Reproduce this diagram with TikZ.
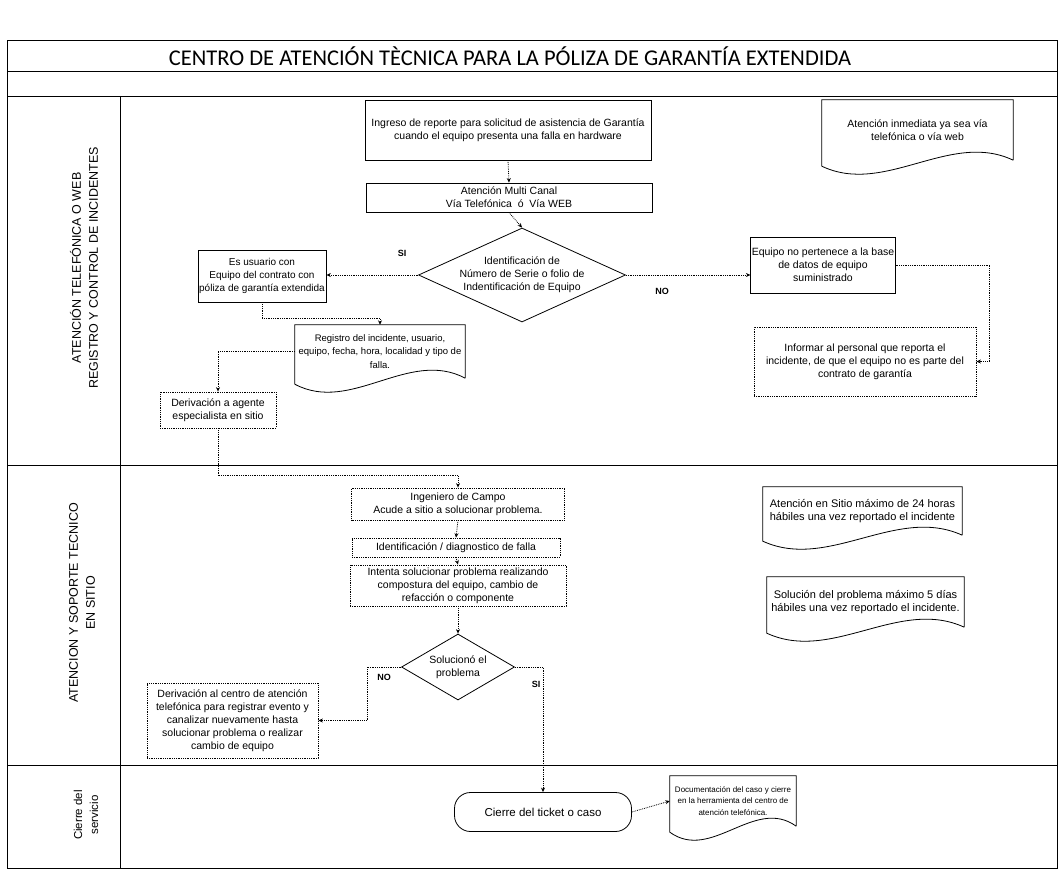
\documentclass[tikz,border=0pt]{standalone}
\usepackage{fontspec}
\setmainfont{Liberation Sans}
\newfontfamily\titlefont{Carlito}
\usetikzlibrary{shapes.geometric,arrows.meta,calc}
\newcommand{\docshape}[7][]{%
  \node[doctext,#1,minimum width={(#5)-(#3)},minimum height={(#6)-(#4)}] (#2) at ({((#3)+(#5))/2},{((#4)+(#6))/2}) {#7};
  \draw[docline] (#2.south east) -- (#2.north east) -- (#2.north west) -- ($(#2.south west)+(0,6)$) .. controls +({((#5)-(#3))*0.33},30) and +({-((#5)-(#3))*0.33},-30) .. (#2.south east);
}
\begin{document}
\begin{tikzpicture}[x=1pt,y=-1pt,
  txt/.style={font=\fontsize{10.5}{13}\selectfont, align=center, inner sep=1pt},
  sbox/.style={txt, draw, line width=0.8pt},
  dbox/.style={txt, draw, densely dotted, line width=0.8pt},
  doctext/.style={txt},
  docline/.style={line width=0.8pt},
  conn/.style={densely dotted, line width=0.8pt, -{Stealth[length=4.5pt,width=4pt]}},
  yn/.style={font=\fontsize{9}{10}\selectfont\bfseries, inner sep=0pt},
  lane/.style={rotate=90, align=center, font=\fontsize{12.5}{17}\selectfont},
  frame/.style={line width=0.9pt}]
\useasboundingbox (0,0) rectangle (1061,877);
\fill[white] (0,0) rectangle (1061,877);

% frame and lanes
\draw[frame] (7,40) rectangle (1057,868);
\draw[frame] (7,71) -- (1057,71);
\draw[frame] (7,96) -- (1057,96);
\draw[frame] (120,96) -- (120,868);
\draw[frame] (7,465) -- (1057,465);
\draw[frame] (7,765) -- (1057,765);

\node[font=\titlefont\fontsize{22.5}{26}\selectfont] (title) at (510,56) {CENTRO DE ATENCIÓN TÈCNICA PARA LA PÓLIZA DE GARANTÍA EXTENDIDA};

\node[lane] (lane1) at (84,268) {ATENCIÓN TELEFÓNICA O WEB\\REGISTRO Y CONTROL DE INCIDENTES};
\node[lane] (lane2) at (82,603) {ATENCION Y SOPORTE TECNICO\\EN SITIO};
\node[lane, font=\fontsize{11.5}{16}\selectfont] (lane3) at (86,815) {Cierre del\\servicio};

% lane 1
\node[sbox, minimum width=286, minimum height=60] (box1) at (508,130) {Ingreso de reporte para solicitud de asistencia de Garantía\\cuando el equipo presenta una falla en hardware};
\node[sbox, minimum width=286, minimum height=29] (box2) at (509,197.5) {Atención Multi Canal\\Vía Telefónica \ ó \ Vía WEB};
\node[diamond, draw, line width=0.8pt, minimum width=207, minimum height=94, inner sep=0pt] (d1) at (522,275) {};
\node[txt] (d1t) at (d1.center) {Identificación de\\Número de Serie o folio de\\Indentificación de Equipo};
\node[sbox, font=\fontsize{10}{13}\selectfont, minimum width=128, minimum height=52] (usuario) at (262,276) {Es usuario con\\Equipo del contrato con\\póliza de garantía extendida};
\docshape[font=\fontsize{9.5}{13.5}\selectfont]{registro}{295}{325}{465}{378}{Registro del incidente, usuario,\\equipo, fecha, hora, localidad y tipo de\\falla.}
\node[dbox, minimum width=116, minimum height=36] (derivA) at (218,410) {Derivación a agente\\especialista en sitio};
\docshape{atinm}{822}{100}{1013}{160}{Atención inmediata ya sea vía\\telefónica o vía web}
\node[sbox, minimum width=142, minimum height=56] (equipo) at (823,265) {Equipo no pertenece a la base\\de datos de equipo\\suministrado};
\node[dbox, minimum width=222, minimum height=69] (informar) at (865,361.5) {Informar al personal que reporta el\\incidente, de que el equipo no es parte del\\contrato de garantía};

\node[yn] (si1) at (402,253) {SI};
\node[yn] (no1) at (662,291) {NO};

\draw[conn] (box1.south) -- (box2.north);
\draw[conn] (box2.south) -- (d1.north);
\draw[conn] (d1.west) -- (d1.west -| usuario.east);
\draw[conn] (d1.east) -- (d1.east -| equipo.west);
\draw[conn] (usuario.south) -- ++(0,16) -| (registro.north);
\draw[conn] (registro.west) -| (derivA.north);
\draw[conn] (equipo.east) -- ++(94,0) |- (informar.east);

% lane 2
\node[dbox, minimum width=213, minimum height=32] (ing) at (458,504) {Ingeniero de Campo\\Acude a sitio a solucionar problema.};
\node[dbox, minimum width=208, minimum height=19] (ident) at (456,547.5) {Identificación / diagnostico de falla};
\node[dbox, minimum width=216, minimum height=41] (intenta) at (458,585.5) {Intenta solucionar problema realizando\\compostura del equipo, cambio de\\refacción o componente};
\node[diamond, draw, line width=0.8pt, minimum width=113, minimum height=66, inner sep=0pt] (d2) at (458,667) {};
\node[txt] (d2t) at (d2.center) {Solucionó el\\problema};
\node[dbox, minimum width=171, minimum height=75] (derivC) at (232.5,720.5) {Derivación al centro de atención\\telefónica para registrar evento y\\canalizar nuevamente hasta\\solucionar problema o realizar\\cambio de equipo};
\docshape[font=\fontsize{11}{13}\selectfont]{atsitio}{763}{487}{962}{535}{Atención en Sitio máximo de 24 horas\\hábiles una vez reportado el incidente}
\docshape[font=\fontsize{11}{13}\selectfont]{solucion}{767}{577}{964}{627}{Solución del problema máximo 5 días\\hábiles una vez reportado el incidente.}

\node[yn] (no2) at (384,677) {NO};
\node[yn] (si2) at (536,684) {SI};

\draw[conn] (derivA.south) |- ($(ing.north)+(0,-12)$) -- (ing.north);
\draw[conn] (ing.south) -- (ident.north);
\draw[conn] (ident.south) -- (intenta.north);
\draw[conn] (intenta.south) -- (d2.north);
\draw[conn] (d2.west) -- ++(-34,0) |- (derivC.east);

% lane 3
\node[sbox, rounded corners=16pt, minimum width=177, minimum height=39, font=\fontsize{11.5}{13}\selectfont] (cierre) at (543,812) {Cierre del ticket o caso};
\docshape[font=\fontsize{8}{11.5}\selectfont]{docfin}{670}{776}{796}{826}{Documentación del caso y cierre\\en la herramienta del centro de\\atención telefónica.}

\draw[conn] (d2.east) -| (cierre.north);
\draw[conn] (cierre.east) -- (docfin.west);
\end{tikzpicture}
\end{document}
